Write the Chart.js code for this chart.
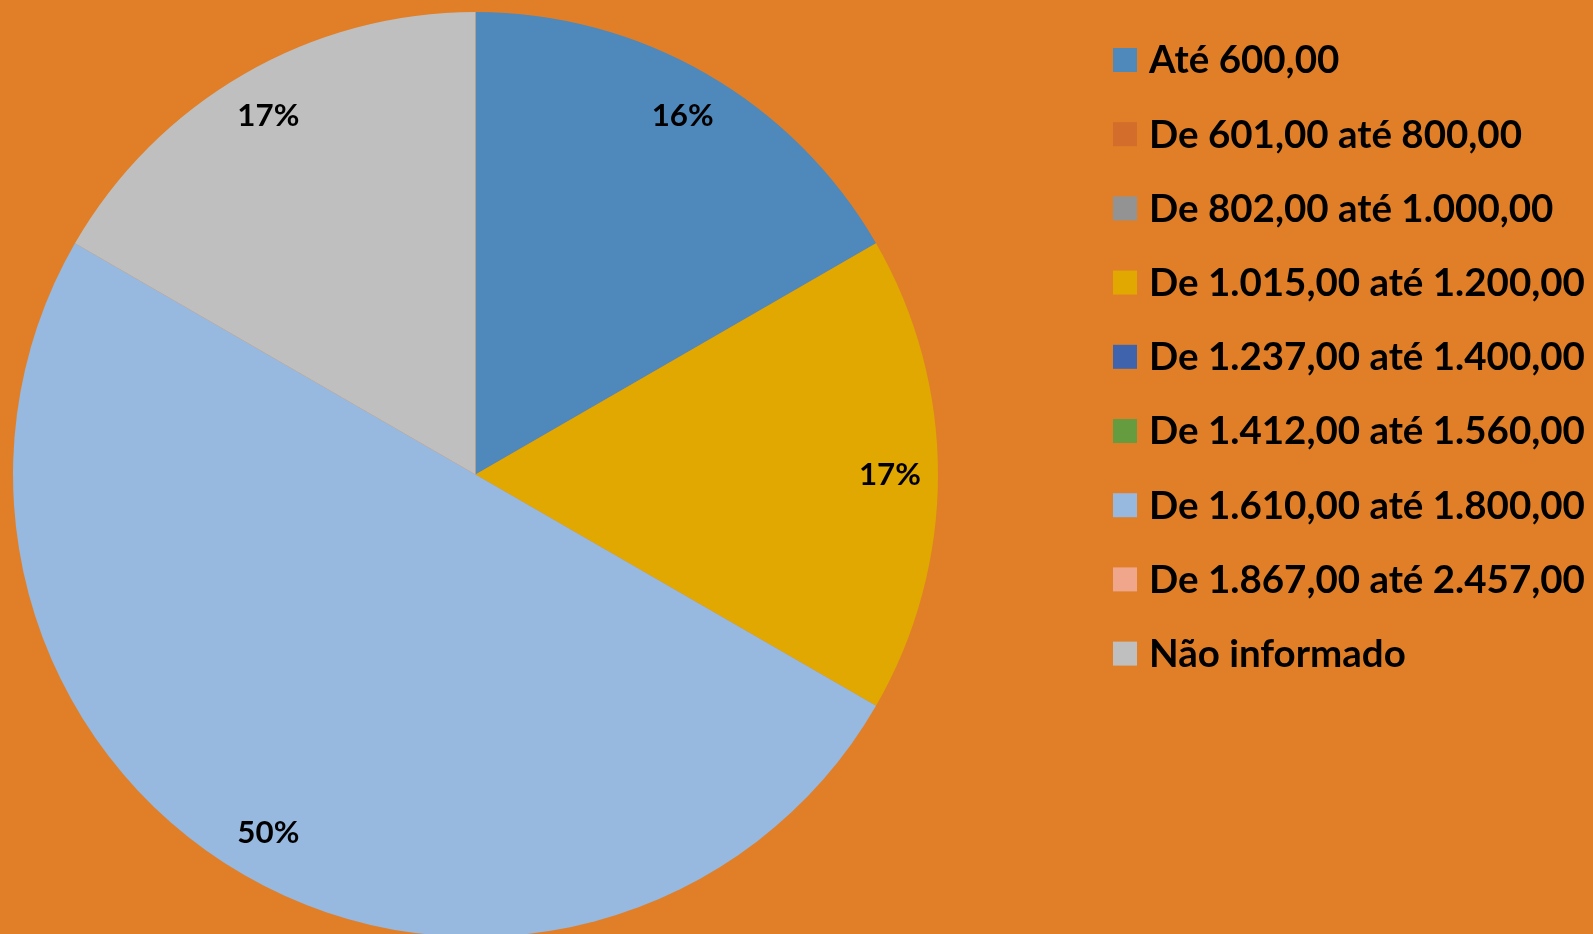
<!DOCTYPE html>
<html><head><meta charset="utf-8">
<script src="https://cdn.jsdelivr.net/npm/chart.js@4"></script>
<style>
html,body{margin:0;padding:0;background:#E07F27;overflow:hidden;}
#wrap{position:relative;width:1593px;height:950px;}
</style></head>
<body><div id="wrap"><canvas id="c" width="1593" height="950"></canvas></div>
<script>
const categories = ["Até 600,00","De 601,00 até 800,00","De 802,00 até 1.000,00","De 1.015,00 até 1.200,00","De 1.237,00 até 1.400,00","De 1.412,00 até 1.560,00","De 1.610,00 até 1.800,00","De 1.867,00 até 2.457,00","Não informado"];
const values = [1,0,0,1,0,0,3,0,1];
const valueLabels = ["16%","","","17%","","","50%","","17%"];
const colors = ["#4F88BB","#D36D2B","#939393","#E0A800","#3F64AD","#659C40","#97B8DF","#F0A68A","#BFBFBF"];

const FONT = "Lato, 'Open Sans', sans-serif";
function fitSize(text, target){
  const cx = document.createElement('canvas').getContext('2d');
  cx.font = "bold 100px " + FONT;
  return 100 * target / cx.measureText(text).width;
}
const legendSize = fitSize("De 1.015,00 até 1.200,00", 436);
const labelSize = fitSize("16%", 62);

const legendPlugin = {
  id: 'sideLegend',
  afterDraw(chart){
    const ctx = chart.ctx;
    ctx.save();
    ctx.font = "bold " + legendSize + "px " + FONT;
    ctx.textBaseline = 'middle';
    ctx.textAlign = 'left';
    chart.data.labels.forEach((lab,i)=>{
      const y = 60 + i*74.2;
      ctx.fillStyle = chart.data.datasets[0].backgroundColor[i];
      ctx.fillRect(1113, y-12, 24, 24);
      ctx.fillStyle = '#000';
      ctx.fillText(lab, 1149, y+1);
    });
    ctx.restore();
  }
};
const labelPlugin = {
  id: 'sliceLabels',
  afterDatasetsDraw(chart){
    const ctx = chart.ctx;
    const meta = chart.getDatasetMeta(0);
    ctx.save();
    ctx.font = "bold " + labelSize + "px " + FONT;
    ctx.textBaseline = 'middle';
    ctx.textAlign = 'center';
    ctx.fillStyle = '#000';
    meta.data.forEach((arc,i)=>{
      const t = valueLabels[i];
      if(!t) return;
      const p = arc.getProps(['x','y','startAngle','endAngle','outerRadius'], true);
      const a = (p.startAngle + p.endAngle)/2;
      const r = p.outerRadius * 0.896;
      ctx.fillText(t, p.x + Math.cos(a)*r, p.y + Math.sin(a)*r);
    });
    ctx.restore();
  }
};

new Chart(document.getElementById('c'), {
  type: 'pie',
  data: { labels: categories, datasets: [{ data: values, backgroundColor: colors, borderWidth: 0 }] },
  options: {
    responsive: false,
    animation: false,
    layout: { padding: { left: 13, top: 12, bottom: 13, right: 655 } },
    plugins: { legend: { display: false }, tooltip: { enabled: false } }
  },
  plugins: [labelPlugin, legendPlugin]
});
</script></body></html>
